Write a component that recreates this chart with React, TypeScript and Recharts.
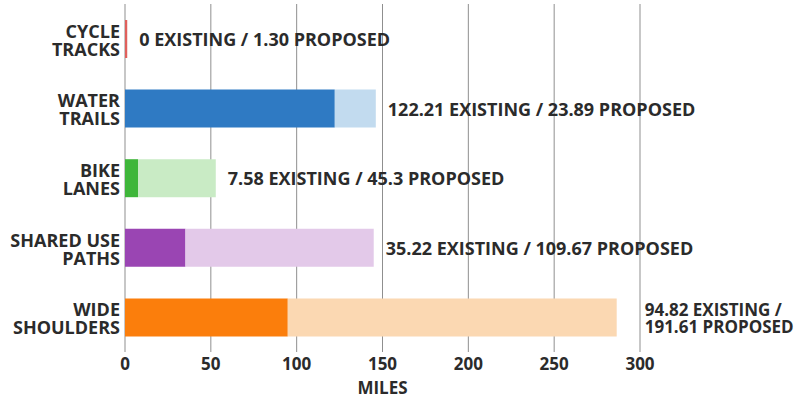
import React from 'react';
import { BarChart, Bar, XAxis, YAxis, CartesianGrid, Cell, LabelList } from 'recharts';

const categories = ['CYCLE TRACKS', 'WATER TRAILS', 'BIKE LANES', 'SHARED USE PATHS', 'WIDE SHOULDERS'];
const categoryLines = [['CYCLE', 'TRACKS'], ['WATER', 'TRAILS'], ['BIKE', 'LANES'], ['SHARED USE', 'PATHS'], ['WIDE', 'SHOULDERS']];
const existing = [0, 122.21, 7.58, 35.22, 94.82];
const proposed = [1.3, 23.89, 45.3, 109.67, 191.61];
const valueLabels = [
  '0 EXISTING / 1.30 PROPOSED',
  '122.21 EXISTING / 23.89 PROPOSED',
  '7.58 EXISTING / 45.3 PROPOSED',
  '35.22 EXISTING / 109.67 PROPOSED',
  '94.82 EXISTING / 191.61 PROPOSED',
];
const xTicks = [0, 50, 100, 150, 200, 250, 300];

const existingColors = ['#d9403f', '#2f7ac3', '#3fb63a', '#9a45b3', '#fb7e0c'];
const proposedColors = ['#e0605c', '#c2dbef', '#c9ebc5', '#e3c9e9', '#fbd8b2'];

const data = categories.map((name, i) => ({
  name,
  existing: existing[i],
  proposed: proposed[i],
}));

const W = 805;
const H = 402;
const FONT = '"Open Sans", "DejaVu Sans", sans-serif';
const TEXT = '#2b2b2b';
const FS = 18;

const CategoryTick = (props: any) => {
  const { x, y, index } = props;
  const lines = categoryLines[index] || [];
  return (
    <text x={x + 3} y={y} textAnchor="end" fontFamily={FONT} fontWeight={700} fontSize={FS} fill={TEXT}>
      {lines.map((l, k) => (
        <tspan key={k} x={x + 3} dy={k === 0 ? -1 : 18}>{l}</tspan>
      ))}
    </text>
  );
};

const ValueLabel = (props: any) => {
  const { x, y, width, height, index } = props;
  const label = valueLabels[index];
  const cy = y + height / 2;
  const startX = x + width + 12;
  const estWidth = label.length * 9.8;
  if (startX + estWidth > W) {
    const parts = label.split('/ ');
    const lx = x + width + 28;
    return (
      <text x={lx} y={cy} fontFamily={FONT} fontWeight={700} fontSize={FS - 1} fill={TEXT}>
        <tspan x={lx} dy={-1}>{parts[0] + '/'}</tspan>
        <tspan x={lx} dy={17}>{parts[1]}</tspan>
      </text>
    );
  }
  return (
    <text x={startX} y={cy} dy={7} fontFamily={FONT} fontWeight={700} fontSize={FS} fill={TEXT}>
      {label}
    </text>
  );
};

export default function App() {
  return (
    <div style={{ position: 'absolute', left: 0, top: 0, width: W, height: H, background: '#fff' }}>
      <BarChart
        width={W}
        height={H}
        data={data}
        layout="vertical"
        margin={{ top: 4, right: 165, bottom: 2, left: 0 }}
        barSize={38}
      >
        <CartesianGrid horizontal={false} stroke="#8f8f8f" />
        <XAxis
          type="number"
          domain={[0, 300]}
          ticks={xTicks}
          axisLine={false}
          tickLine={false}
          height={48}
          tick={{ fontFamily: FONT, fontWeight: 700, fontSize: 17, fill: TEXT }}
          tickMargin={0}
          label={{ value: 'MILES', position: 'insideBottom', offset: 6, style: { fontFamily: FONT, fontWeight: 700, fontSize: 17, fill: TEXT } }}
        />
        <YAxis
          type="category"
          dataKey="name"
          width={125}
          axisLine={false}
          tickLine={false}
          tick={<CategoryTick />}
        />
        <Bar dataKey="existing" stackId="a" isAnimationActive={false}>
          {data.map((_, i) => (
            <Cell key={i} fill={existingColors[i]} />
          ))}
        </Bar>
        <Bar dataKey="proposed" stackId="a" isAnimationActive={false}>
          {data.map((_, i) => (
            <Cell key={i} fill={proposedColors[i]} />
          ))}
          <LabelList dataKey="proposed" content={<ValueLabel />} />
        </Bar>
      </BarChart>
    </div>
  );
}
